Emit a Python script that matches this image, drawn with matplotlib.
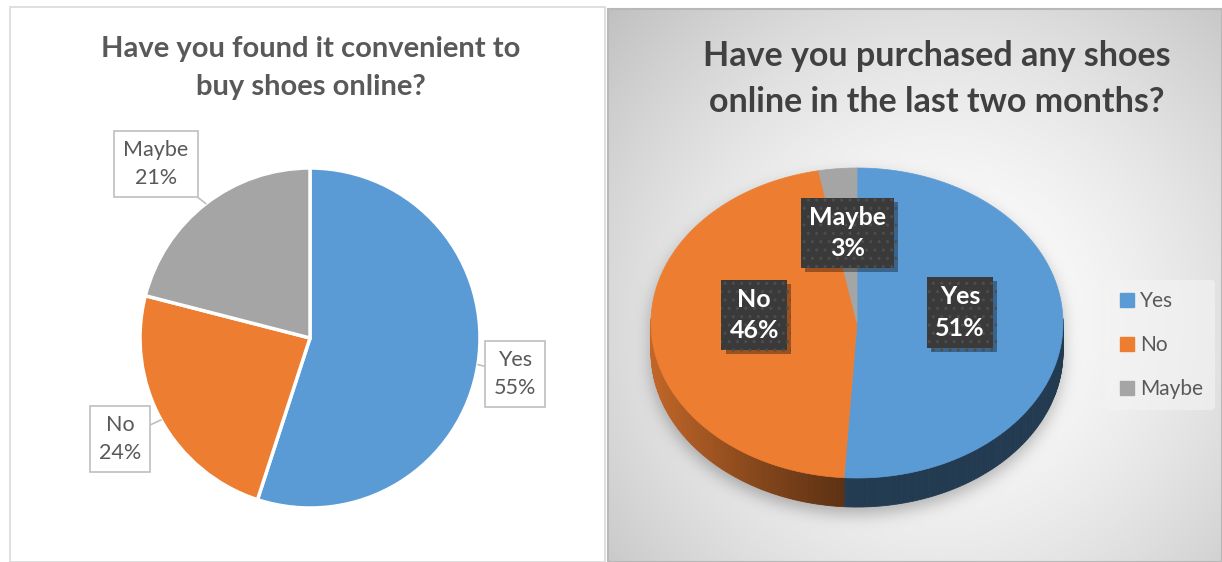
import numpy as np
import matplotlib.pyplot as plt
import matplotlib.patheffects as pe
from matplotlib.colors import to_rgb
from matplotlib.patches import Rectangle, Polygon
from matplotlib.lines import Line2D

plt.rcParams['font.family'] = ['Lato', 'DejaVu Sans']

labels = ['Yes', 'No', 'Maybe']
convenient_pct = [55, 24, 21]
purchased_pct = [51, 46, 3]
colors = ['#5B9BD5', '#ED7D31', '#A5A5A5']

W, H = 1222, 562
fig = plt.figure(figsize=(W / 100, H / 100), dpi=100)
ax = fig.add_axes([0, 0, 1, 1])


def up(y):
    # pixel rows count from the top, the axes from the bottom
    return H - y


# ---------------- left panel: flat pie with callouts ----------------
ax.add_patch(Rectangle((10, 0), 595, up(7), fill=False, ec='#d9d9d9', lw=1.2, zorder=1))
ax.text(311, up(68), 'Have you found it convenient to\nbuy shoes online?', ha='center', va='center',
        fontsize=21, fontweight='bold', color='#595959', linespacing=1.6)

pc, pr = (310, up(338)), 170
wedges, _ = ax.pie(convenient_pct, colors=colors, startangle=90, counterclock=False,
                   center=pc, radius=pr, frame=True,
                   wedgeprops=dict(edgecolor='white', linewidth=2.5))
callout_pos = {'Yes': (515, up(374)), 'No': (120, up(439)), 'Maybe': (156, up(164))}
for w, lab, v in zip(wedges, labels, convenient_pct):
    mid = np.deg2rad((w.theta1 + w.theta2) / 2)
    tip = (pc[0] + pr * np.cos(mid), pc[1] + pr * np.sin(mid))
    ax.annotate(f'{lab}\n{v}%', xy=tip, xytext=callout_pos[lab], ha='center', va='center',
                fontsize=15.5, color='#595959', linespacing=1.55,
                bbox=dict(boxstyle='square,pad=0.42', fc='white', ec='#bfbfbf', lw=1.2),
                arrowprops=dict(arrowstyle='-', color='#bfbfbf', lw=1.2, shrinkA=0, shrinkB=0),
                zorder=5)

# ---------------- right panel: 3-D pie on a radial gradient ----------------
x0, y0, x1, y1 = 608, 9, W, H
cx, cy, a, b, depth = 857, 323, 206, 155, 29

xs = np.arange(x0, x1) + 0.5
ys = np.arange(y0, y1) + 0.5
X, Y = np.meshgrid(xs, ys)
d = np.hypot(X - 940, Y - 320)
bg = 1 - 0.25 * np.clip(d / 460, 0, 1.2) ** 1.6

# soft drop shadow under the pie body
sy = cy + 7
inside = (((X - cx) / a) ** 2 + ((Y - sy) / b) ** 2 <= 1) | \
         (((X - cx) / a) ** 2 + ((Y - sy - depth) / b) ** 2 <= 1) | \
         ((np.abs(X - cx) <= a) & (Y >= sy) & (Y <= sy + depth))
k = np.arange(-24, 25)
kern = np.exp(-k ** 2 / (2 * 8.0 ** 2))
kern /= kern.sum()
blur = inside.astype(float)
blur = np.apply_along_axis(lambda r: np.convolve(r, kern, mode='same'), 1, blur)
blur = np.apply_along_axis(lambda c: np.convolve(c, kern, mode='same'), 0, blur)
bg = bg - 0.25 * blur
ax.imshow(np.dstack([bg] * 3), extent=(x0, x1, up(y1), up(y0)), aspect='auto',
          interpolation='bilinear', zorder=0)
ax.add_patch(Rectangle((x0, 0), x1 - x0, up(y0), fill=False, ec='#b8b8b8', lw=1.5, zorder=1))

ax.text(937, up(79), 'Have you purchased any shoes\nonline in the last two months?', ha='center',
        va='center', fontsize=24.5, fontweight='bold', color='#404040', linespacing=1.5)

ecx, ecy = cx, up(cy)


def rim(t, f=1.0, dz=0.0):
    return ecx + f * a * np.cos(t), ecy + f * b * np.sin(t) - dz


def shade(x):
    return 0.38 + 0.44 * np.clip((ecx - x) / a, 0, 1) ** 1.2


total = sum(purchased_pct)
start = 90.0
spans = []
for v in purchased_pct:
    spans.append((start, start - 360.0 * v / total))
    start -= 360.0 * v / total

# side walls first (front half only), then the top faces
for (t1, t2), col in zip(spans, colors):
    th = np.deg2rad(np.linspace(t1, t2, 240))
    rgb = np.array(to_rgb(col))
    for i in range(len(th) - 1):
        if np.sin(th[i]) > 0.02 and np.sin(th[i + 1]) > 0.02:
            continue
        xa, ya = rim(th[i])
        xb, yb = rim(th[i + 1])
        c = rgb * shade((xa + xb) / 2)
        ax.add_patch(Polygon([(xa, ya), (xb, yb), (xb, yb - depth), (xa, ya - depth)],
                             closed=True, fc=c, ec=c, lw=0.6, zorder=2))

for (t1, t2), col in zip(spans, colors):
    th = np.deg2rad(np.linspace(t1, t2, 200))
    px, py = rim(th)
    pts = [(ecx, ecy)] + list(zip(px, py))
    ax.add_patch(Polygon(pts, closed=True, fc=col, ec=col, lw=0.5, zorder=3))

# dark data labels with a drop shadow
box_shadow = [pe.withSimplePatchShadow(offset=(3, -3), shadow_rgbFace='black', alpha=0.35)]
for (t1, t2), lab, v in zip(spans, labels, purchased_pct):
    mid = np.deg2rad((t1 + t2) / 2)
    lx, ly = rim(mid, 0.5)
    ly += 13
    ax.text(lx, ly, f'{lab}\n{v}%', ha='center', va='center', fontsize=18, fontweight='bold',
            color='white', linespacing=1.45, zorder=5,
            bbox=dict(boxstyle='square,pad=0.32', fc='#3a3a3a', ec='#4d4d4d', lw=0,
                      hatch='..', path_effects=box_shadow))

handles = [Line2D([], [], marker='s', ls='none', ms=10, mfc=c, mec=c) for c in colors]
ax.legend(handles, labels, loc='center left', bbox_to_anchor=(1105 / W, up(345) / H),
          frameon=True, facecolor='#f4f4f4', edgecolor='none', framealpha=0.6,
          fontsize=15, labelcolor='#595959', labelspacing=1.15, handletextpad=0.15,
          handlelength=1.0, borderpad=0.55, borderaxespad=0)

ax.set_xlim(0, W)
ax.set_ylim(0, H)
ax.set_aspect('auto')
ax.axis('off')
fig.savefig('out.png', dpi=100, facecolor='white')
